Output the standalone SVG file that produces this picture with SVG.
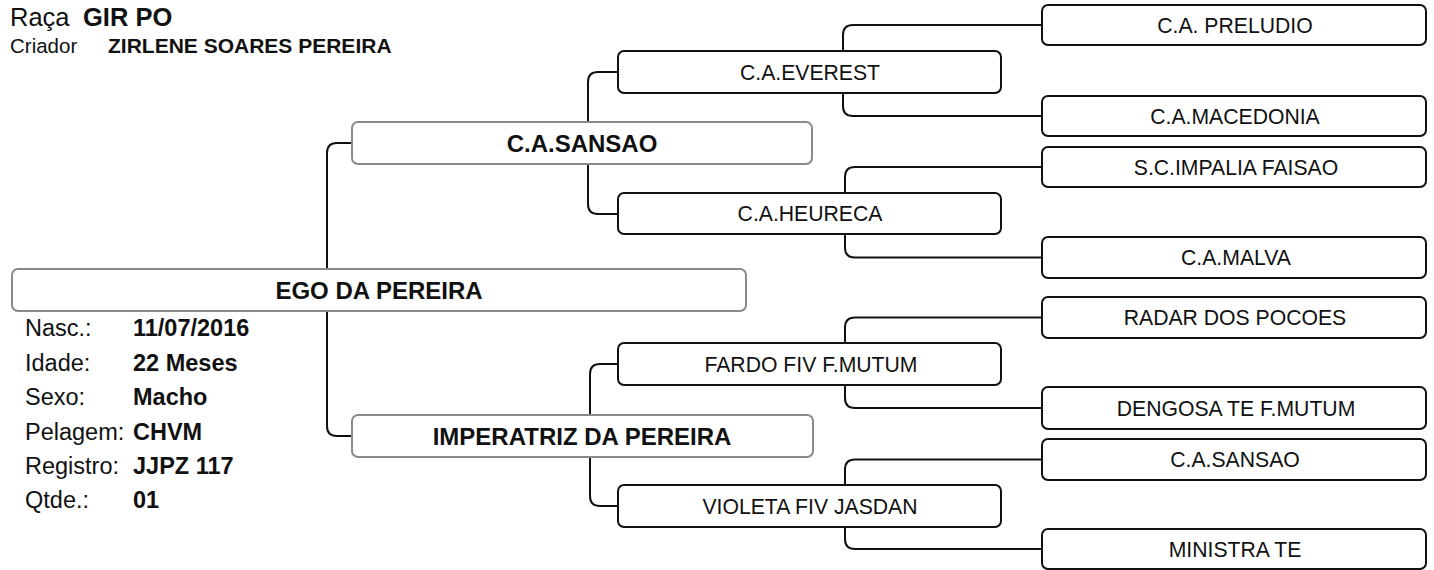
<svg xmlns="http://www.w3.org/2000/svg" width="1434" height="570" viewBox="0 0 1434 570">
<style>
text{font-family:"Liberation Sans",Arial,sans-serif;fill:#111}
.g3 rect,.g4 rect{fill:#fff;stroke:#111;stroke-width:2}
.g1 rect{fill:#fff;stroke:#8a8a8a;stroke-width:2}
.n{font-size:21.2px;text-anchor:middle}
.b{font-size:24px;font-weight:bold;text-anchor:middle}
.lab{font-size:23.5px}
.val{font-size:23.5px;font-weight:bold}
#connectors path{fill:none;stroke:#111;stroke-width:2}
</style>
<defs>
<clipPath id="cFardo"><rect x="600" y="340" width="317" height="50"/></clipPath>
<clipPath id="cDeng"><rect x="1040" y="385" width="316" height="50"/></clipPath>
<clipPath id="cImp"><rect x="1040" y="145" width="299.5" height="45"/></clipPath>
<clipPath id="cMalva"><rect x="1040" y="235" width="251" height="45"/></clipPath>
</defs>
<rect width="1434" height="570" fill="#fff"/>
<g id="header">
<text x="10" y="26" style="font-size:25.5px">Raça</text>
<text x="83" y="26" style="font-size:25.5px;font-weight:bold">GIR PO</text>
<text x="10" y="53" style="font-size:20.5px">Criador</text>
<text x="108" y="53" style="font-size:21px;font-weight:bold">ZIRLENE SOARES PEREIRA</text>
</g>
<g id="connectors">
<path d="M352,143 H337 Q327,143 327,153 V426 Q327,436 337,436 H352"/>
<path d="M618,72 H598 Q588,72 588,82 V204 Q588,214 598,214 H618"/>
<path d="M618,364 H600 Q590,364 590,374 V496 Q590,506 600,506 H618"/>
<path d="M1042,25 H853 Q843,25 843,35 V106 Q843,116 853,116 H1042"/>
<path d="M1042,167 H855 Q845,167 845,177 V247.5 Q845,257.5 855,257.5 H1042"/>
<path d="M1042,317.5 H855 Q845,317.5 845,327.5 V398 Q845,408 855,408 H1042"/>
<path d="M1042,459.5 H855 Q845,459.5 845,469.5 V539 Q845,549 855,549 H1042"/>
</g>
<g id="ego" class="g1"><rect x="12" y="269" width="734" height="42" rx="6"/><text class="b" x="379" y="298.5">EGO DA PEREIRA</text></g>
<g id="sire" class="g1"><rect x="352" y="122" width="460" height="42" rx="6"/><text class="b" x="582" y="151.5">C.A.SANSAO</text></g>
<g id="dam" class="g1"><rect x="352" y="415" width="461" height="42" rx="6"/><text class="b" x="582" y="444.5">IMPERATRIZ DA PEREIRA</text></g>
<g id="everest" class="g3"><rect x="618" y="51" width="383" height="42" rx="6"/><text class="n" x="810" y="79.5">C.A.EVEREST</text></g>
<g id="heureca" class="g3"><rect x="618" y="193" width="383" height="41" rx="6"/><text class="n" x="810" y="221">C.A.HEURECA</text></g>
<g id="fardo" class="g3"><rect x="618" y="343" width="383" height="42" rx="6"/><text class="n" x="811" y="371.5" clip-path="url(#cFardo)">FARDO FIV F.MUTUM</text></g>
<g id="violeta" class="g3"><rect x="618" y="485" width="383" height="42" rx="6"/><text class="n" x="810" y="513.5">VIOLETA FIV JASDAN</text></g>
<g id="preludio" class="g4"><rect x="1042" y="5" width="384" height="40" rx="6"/><text class="n" x="1235" y="32.5">C.A. PRELUDIO</text></g>
<g id="macedonia" class="g4"><rect x="1042" y="96" width="384" height="40" rx="6"/><text class="n" x="1235" y="123.5">C.A.MACEDONIA</text></g>
<g id="impalia" class="g4"><rect x="1042" y="147" width="384" height="40" rx="6"/><text class="n" x="1236" y="174.5" clip-path="url(#cImp)">S.C.IMPALIA FAISAO</text></g>
<g id="malva" class="g4"><rect x="1042" y="237" width="384" height="41" rx="6"/><text class="n" x="1236" y="265" clip-path="url(#cMalva)">C.A.MALVA</text></g>
<g id="radar" class="g4"><rect x="1042" y="297" width="384" height="41" rx="6"/><text class="n" x="1235" y="325">RADAR DOS POCOES</text></g>
<g id="dengosa" class="g4"><rect x="1042" y="387" width="384" height="42" rx="6"/><text class="n" x="1236" y="415.5" clip-path="url(#cDeng)">DENGOSA TE F.MUTUM</text></g>
<g id="sansao2" class="g4"><rect x="1042" y="439" width="384" height="41" rx="6"/><text class="n" x="1235" y="467">C.A.SANSAO</text></g>
<g id="ministra" class="g4"><rect x="1042" y="529" width="384" height="40" rx="6"/><text class="n" x="1235" y="556.5">MINISTRA TE</text></g>
<g id="info">
<text class="lab" x="25" y="336">Nasc.:</text><text class="val" x="133" y="336">11/07/2016</text>
<text class="lab" x="25" y="370.5">Idade:</text><text class="val" x="133" y="370.5">22 Meses</text>
<text class="lab" x="25" y="405">Sexo:</text><text class="val" x="133" y="405">Macho</text>
<text class="lab" x="25" y="439.5">Pelagem:</text><text class="val" x="133" y="439.5">CHVM</text>
<text class="lab" x="25" y="473.5">Registro:</text><text class="val" x="133" y="473.5">JJPZ 117</text>
<text class="lab" x="25" y="507.5">Qtde.:</text><text class="val" x="133" y="507.5">01</text>
</g>
</svg>
